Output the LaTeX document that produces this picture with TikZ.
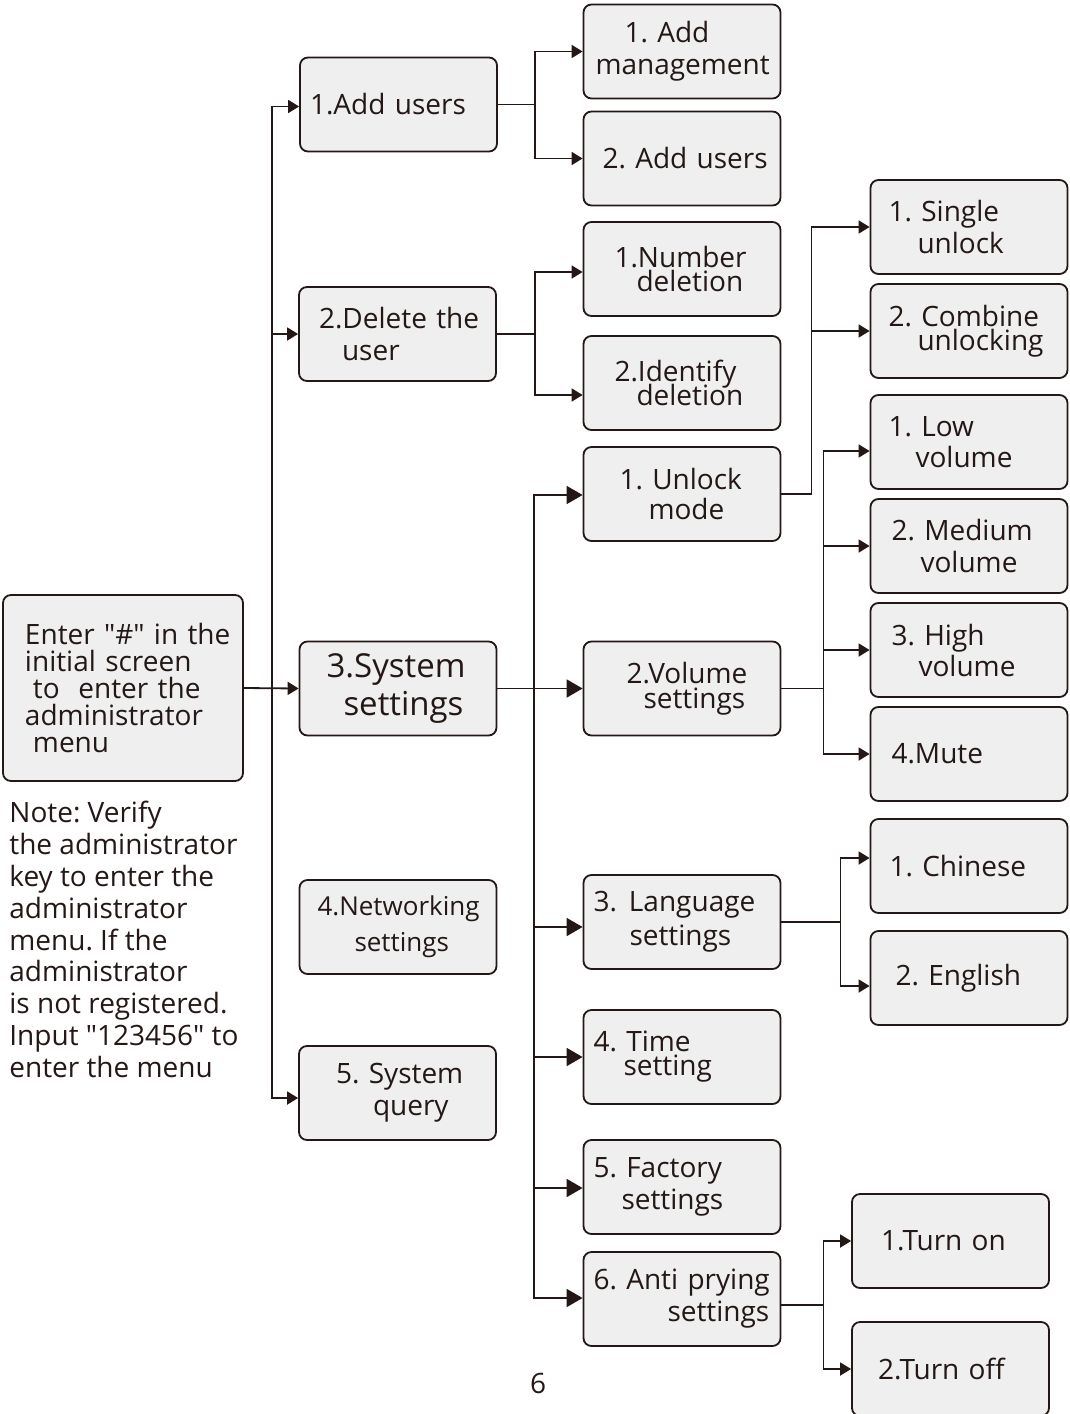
\documentclass[tikz,border=0pt]{standalone}
\usepackage{fontspec}
\setmainfont{Open Sans}
\usepackage{xcolor}
\usepackage{tikz}
\usetikzlibrary{arrows.meta, positioning, calc}
\definecolor{Ink}{HTML}{231815}
\definecolor{BoxGray}{HTML}{EFEFEF}
\frenchspacing
\newlength\px
\setlength\px{0.5pt}
\newcommand{\ind}[1]{\hspace*{#1\px}}
\newcommand{\qt}{\textquotedbl}
\tikzset{
  menu box/.style={rectangle, draw=Ink, fill=BoxGray, rounded corners=4pt,
                   line width=0.9pt, minimum width=98.5pt, minimum height=47pt,
                   text width=98.5pt, inner xsep=0pt, inner ysep=0pt,
                   align=left, text=Ink, font=\fontsize{14}{16}\selectfont},
  root box/.style={menu box, minimum width=120pt, text width=120pt,
                   minimum height=93pt, font=\fontsize{14}{13.5}\selectfont},
  arr/.style={-{Triangle[length=5.5pt, width=6.5pt]}, line width=0.9pt, draw=Ink},
  big arr/.style={-{Triangle[length=8pt, width=9pt]}, line width=0.9pt, draw=Ink},
}

\begin{document}
\begin{tikzpicture}[x=0.5pt, y=-0.5pt]
  \useasboundingbox (0,0) rectangle (1070,1414);
  % root and note
  \node[root box] (root) at (123,688)
    {\ind{22}Enter \qt\#\qt\ in the\\\ind{22}initial screen\\\ind{30}to\ \ enter the\\\ind{22}administrator\\\ind{30}menu};
  \node[anchor=north west, inner sep=0pt, align=left, text=Ink,
        font=\fontsize{14}{15.9}\selectfont] (note) at (9,801)
    {Note: Verify\\the administrator\\key to enter the\\administrator\\menu. If the\\administrator\\is not registered.\\Input \qt123456\qt\ to\\enter the menu};
  % first level
  \node[menu box] (add) at (398.5,104.5) {\ind{10}1.Add users};
  \node[menu box] (del) at (397.5,334) {\ind{20}2.Delete the\\\ind{43}user};
  \node[menu box, font=\fontsize{16.5}{16}\selectfont] (sys) at (398,688.5)
    {\ind{27}3.System\\[1.5pt]\ind{44}settings};
  \node[menu box, font=\fontsize{13}{16}\selectfont] (net) at (398,927)
    {\ind{18}4.Networking\\[2pt]\ind{55}settings};
  \node[menu box] (query) at (397.5,1093) {\ind{37}5. System\\\ind{74}query};
  % second level
  \node[menu box] (mgmt) at (682,51.5) {\ind{41}1. Add\\\ind{12}management};
  \node[menu box] (users) at (682,158.5) {\ind{19}2. Add users};
  \node[menu box] (ndel) at (682,269) {\ind{31}1.Number\\[-4pt]\ind{53}deletion};
  \node[menu box] (idel) at (682,383) {\ind{31}2.Identify\\[-4pt]\ind{53}deletion};
  \node[menu box] (unlock) at (682,494) {\ind{36}1. Unlock\\[-1pt]\ind{65}mode};
  \node[menu box] (vol) at (682,688.5) {\ind{43}2.Volume\\[-3.5pt]\ind{60}settings};
  \node[menu box] (lang) at (682,922) {\ind{10}3.\hspace{6pt}Language\\[1pt]\ind{46}settings};
  \node[menu box] (time) at (682,1057) {\ind{10}4. Time\\[-4pt]\ind{40}setting};
  \node[menu box] (factory) at (682,1187) {\ind{10}5. Factory\\\ind{38}settings};
  \node[menu box] (anti) at (682,1299) {\ind{10}6. Anti prying\\\ind{84}settings};
  % third level
  \node[menu box] (single) at (969,227) {\ind{18}1. Single\\\ind{47}unlock};
  \node[menu box] (combine) at (969,331) {\ind{18}2. Combine\\[-4pt]\ind{47}unlocking};
  \node[menu box] (low) at (969,442) {\ind{18}1. Low\\[-0.5pt]\ind{45}volume};
  \node[menu box] (medium) at (969,546) {\ind{21}2. Medium\\\ind{50}volume};
  \node[menu box] (high) at (969,650) {\ind{21}3. High\\[-0.5pt]\ind{48}volume};
  \node[menu box] (mute) at (969,754) {\ind{21}4.Mute};
  \node[menu box] (chinese) at (969,866) {\ind{19}1. Chinese};
  \node[menu box] (english) at (969,978) {\ind{25}2. English};
  \node[menu box] (on) at (950.5,1241) {\ind{29}1.Turn on};
  \node[menu box] (off) at (950.5,1369) {\ind{26}2.Turn off};
  \node[text=Ink, font=\fontsize{14}{16}\selectfont] (page) at (538,1383) {6};
  % connectors
  \draw[arr] (root.east) -- (sys.west);
  \coordinate (spine) at (272,688);
  \draw[arr] (spine) |- ($(add.west)+(0,2)$);
  \draw[arr] (spine) |- (del.west);
  \draw[arr] (spine) |- ($(query.west)+(0,5)$);
  \draw[arr] (add.east) -- ++(37,0) |- (mgmt.west);
  \draw[arr] (add.east) -- ++(37,0) |- (users.west);
  \draw[arr] (del.east) -- ++(38,0) |- ($(ndel.west)+(0,3)$);
  \draw[arr] (del.east) -- ++(38,0) |- ($(idel.west)+(0,12)$);
  \draw[big arr] (sys.east) -- (vol.west);
  \coordinate (sub) at (534,688.5);
  \foreach \t/\dy in {unlock/1, lang/5, time/0, factory/1, anti/-1}
    \draw[big arr] (sub) |- ($(\t.west)+(0,\dy)$);
  \draw[arr] (unlock.east) -- ++(30,0) |- (single.west);
  \draw[arr] (unlock.east) -- ++(30,0) |- (combine.west);
  \draw[arr] (vol.east) -- ++(42,0) |- ($(low.west)+(0,9)$);
  \foreach \t in {medium, high, mute}
    \draw[arr] (vol.east) -- ++(42,0) |- (\t.west);
  \draw[arr] (lang.east) -- ++(59,0) |- ($(chinese.west)+(0,-8)$);
  \draw[arr] (lang.east) -- ++(59,0) |- ($(english.west)+(0,8)$);
  \draw[arr] ($(anti.east)+(0,6)$) -- ++(42,0) |- (on.west);
  \draw[arr] ($(anti.east)+(0,6)$) -- ++(42,0) |- (off.west);
\end{tikzpicture}
\end{document}
